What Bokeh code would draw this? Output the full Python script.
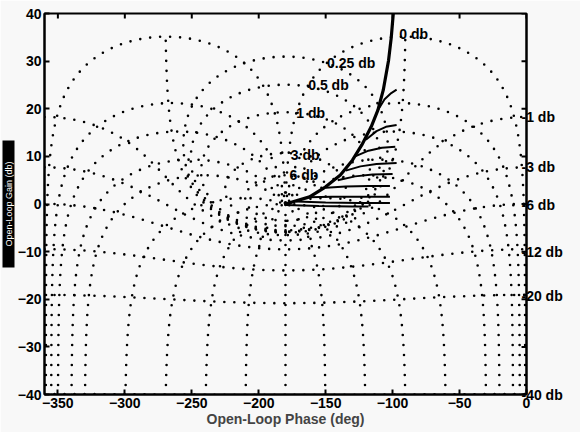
import numpy as np
from bokeh.plotting import figure
from bokeh.models import Range1d, FixedTicker, LinearAxis, ColumnDataSource, LabelSet, Title
from bokeh.core.properties import value
from bokeh.embed import file_html
from bokeh.resources import INLINE

# ---- Nichols grid contour values (closed-loop gain in dB, closed-loop phase in deg) ----
gain_contours_db = [6, 3, 1, 0.5, 0.25, 0, -1, -3, -6, -12, -20, -40]
phase_contours_deg = [1, 5, 10, 20, 30, 60, 90, 120, 150, 180]

# ---- grid labels ----
pos_label_text = ["6 db", "3 db", "1 db", "0.5 db", "0.25 db", "0 db"]
pos_label_phase = [-177, -176, -172, -163, -149, -95]
pos_label_gain = [6.1, 10.3, 19.1, 25.0, 29.6, 35.8]
neg_label_text = ["-1 db", "-3 db", "-6 db", "-12 db", "-20 db", "-40 db"]
neg_label_gain = [18.3, 7.8, -0.2, -10.0, -19.4, -40.0]

# ---- open-loop response curves (phase deg, gain dB) ----
main_phase = [-180, -162, -150, -139, -130, -123, -116, -111, -107, -103, -101, -99.5, -99]
main_gain = [0, 1.5, 3.6, 6.1, 9.2, 12.4, 16.2, 19.7, 23.9, 30.2, 35, 40, 42]

branch_phase = [
    [-111, -106, -101, -97],
    [-120, -112, -105, -97],
    [-128, -118, -108, -98],
    [-135, -124, -112, -97],
    [-141, -128, -115, -100],
    [-150, -135, -118, -102],
    [-163, -145, -122, -102],
    [-172, -150, -125, -102],
    [-180, -155, -130, -118],
]
branch_gain = [
    [19.7, 22.0, 23.3, 24.0],
    [13.5, 15.3, 16.2, 16.6],
    [10.0, 11.2, 11.8, 12.0],
    [7.0, 7.9, 8.4, 8.6],
    [5.0, 5.8, 6.2, 6.3],
    [3.4, 3.7, 3.8, 3.8],
    [1.4, 1.5, 1.5, 1.5],
    [0.5, 0.3, 0.2, 0.2],
    [-0.2, -0.4, -0.5, -0.5],
]

x_ticks = [-350, -300, -250, -200, -150, -100, -50, 0]
y_ticks = [-40, -30, -20, -10, 0, 10, 20, 30, 40]

X_MIN, X_MAX, Y_MIN, Y_MAX = -360, 0, -40, 40


def gain_contour(db):
    M = 10 ** (db / 20.0)
    if abs(M - 1) < 1e-9:
        y = np.concatenate([-np.logspace(3, -4, 1500), np.logspace(-4, 3, 1500)])
        G = -0.5 + 1j * y
    else:
        c = M ** 2 / (1 - M ** 2)
        r = abs(M / (1 - M ** 2))
        a = np.linspace(0, 2 * np.pi, 3000)
        G = c + r * np.exp(1j * a)
    ph = np.mod(np.angle(G, deg=True), 360) - 360
    g = 20 * np.log10(np.abs(G))
    if abs(M - 1) < 1e-9:
        keep = g <= 34.5
        ph, g = ph[keep], g[keep]
    return list(ph), list(g)


def phase_contour(phi):
    t = np.logspace(-4, 4, 6000)
    T = t * np.exp(-1j * np.deg2rad(phi))
    G = T / (1 - T)
    ph = np.mod(np.angle(G, deg=True), 360) - 360
    g = 20 * np.log10(np.abs(G))
    return ph, g


gx, gy = [], []
for db in gain_contours_db:
    a, b = gain_contour(db)
    gx.append(a)
    gy.append(b)
for phi in phase_contours_deg:
    a, b = phase_contour(phi)
    gx.append(list(a))
    gy.append(list(b))
    if phi != 180:
        gx.append(list(-360 - a))
        gy.append(list(b))

FONT = "Liberation Sans"

p = figure(width=580, height=432, output_backend="svg", toolbar_location=None,
           x_range=Range1d(X_MIN, X_MAX), y_range=Range1d(Y_MIN, Y_MAX),
           min_border_left=41, min_border_right=54, min_border_top=13, min_border_bottom=38)
p.background_fill_color = "#f8f8f8"
p.border_fill_color = "#f8f8f8"
p.outline_line_color = "black"
p.outline_line_width = 2
p.xgrid.visible = False
p.ygrid.visible = False

# grid (dotted)
p.multi_line(xs=gx, ys=gy, line_color="black", line_width=2.6,
             line_dash="0 10", line_cap="round")

# open-loop curves
p.line(main_phase, main_gain, line_color="black", line_width=3.2)
for bx, by in zip(branch_phase, branch_gain):
    p.line(bx, by, line_color="black", line_width=2.0)

# inside tick marks on top and right edges (5 px long)
tick_dy = 5 * (Y_MAX - Y_MIN) / 381.0
tick_dx = 5 * (X_MAX - X_MIN) / 485.0
p.segment(x0=x_ticks, y0=[Y_MAX] * len(x_ticks), x1=x_ticks, y1=[Y_MAX - tick_dy] * len(x_ticks),
          line_color="black", line_width=2)
p.segment(x0=[X_MAX] * len(y_ticks), y0=y_ticks, x1=[X_MAX - tick_dx] * len(y_ticks), y1=y_ticks,
          line_color="black", line_width=2)


def style_axis(ax, ticks):
    ax.ticker = FixedTicker(ticks=ticks)
    ax.axis_line_color = "black"
    ax.axis_line_width = 2
    ax.major_tick_in = 5
    ax.major_tick_out = 0
    ax.major_tick_line_color = "black"
    ax.major_tick_line_width = 2
    ax.minor_tick_line_color = None
    ax.major_label_text_font = FONT
    ax.major_label_text_font_style = "bold"
    ax.major_label_text_font_size = "14px"
    ax.major_label_text_color = "black"
    ax.major_label_standoff = 3


style_axis(p.xaxis[0], x_ticks)
style_axis(p.yaxis[0], y_ticks)
p.xaxis[0].axis_label = "Open-Loop Phase (deg)"
p.xaxis[0].axis_label_text_font = FONT
p.xaxis[0].axis_label_text_font_style = "bold"
p.xaxis[0].axis_label_text_font_size = "14px"
p.xaxis[0].axis_label_standoff = 0

# right axis carries the negative closed-loop gain labels
right_ax = LinearAxis()
style_axis(right_ax, neg_label_gain)
right_ax.major_tick_line_color = None
right_ax.major_tick_in = 0
right_ax.major_label_standoff = -5
right_ax.major_label_overrides = {g: t for g, t in zip(neg_label_gain, neg_label_text)}
p.add_layout(right_ax, "right")

# contour labels inside the plot
pos_src = ColumnDataSource(dict(x=pos_label_phase, y=pos_label_gain, t=pos_label_text))
p.add_layout(LabelSet(x="x", y="y", text="t", source=pos_src, text_font=value(FONT),
                      text_font_style="bold", text_font_size="14px", text_color="black",
                      text_baseline="middle", text_align="left"))

# y label: white text on a black box (as in the scan)
pad = "\u00a0" * 8
ytitle = Title(text=pad + "Open-Loop Gain (db)" + pad, align="center",
               text_font=FONT, text_font_size="9px", text_font_style="normal",
               text_color="white", background_fill_color="black", padding=1, standoff=0)
p.add_layout(ytitle, "left")

open("out.html", "w").write(file_html(p, INLINE))
